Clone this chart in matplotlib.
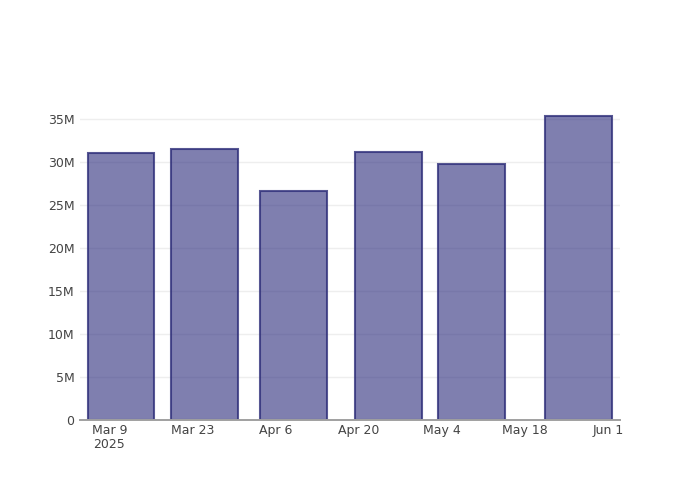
import matplotlib
matplotlib.use("Agg")
import matplotlib.pyplot as plt
import matplotlib.dates as mdates
from datetime import datetime, timedelta

dates = ["2025-03-11", "2025-03-25", "2025-04-09", "2025-04-25", "2025-05-09", "2025-05-27"]
values = [31.1e6, 31.55e6, 26.65e6, 31.15e6, 29.8e6, 35.4e6]
tick_dates = ["2025-03-09", "2025-03-23", "2025-04-06", "2025-04-20", "2025-05-04", "2025-05-18", "2025-06-01"]
tick_labels = ["Mar 9\n2025", "Mar 23", "Apr 6", "Apr 20", "May 4", "May 18", "Jun 1"]
y_ticks = [0, 5e6, 10e6, 15e6, 20e6, 25e6, 30e6, 35e6]
y_labels = ["0", "5M", "10M", "15M", "20M", "25M", "30M", "35M"]

plt.rcParams['font.family'] = ['DejaVu Sans']
fig = plt.figure(figsize=(7, 5), dpi=100)
ax = fig.add_axes([80/700, 80/500, 540/700, 320/500])

x = mdates.date2num([datetime.strptime(d, "%Y-%m-%d") for d in dates])
ax.bar(x, values, width=11.2, facecolor=(42/255, 42/255, 123/255, 0.6),
       edgecolor=(45/255, 45/255, 120/255, 0.8), linewidth=1.5, zorder=3)

tx = mdates.date2num([datetime.strptime(d, "%Y-%m-%d") for d in tick_dates])
x0 = tx[0]
ax.set_xlim(x0 - 4.94, x0 + 86.0)
ax.set_ylim(0, 37.26e6)

ax.set_xticks(tx)
ax.set_xticklabels(tick_labels, fontsize=9, color="#444444", linespacing=1.1)
ax.set_yticks(y_ticks)
ax.set_yticklabels(y_labels, fontsize=9, color="#444444")
ax.tick_params(axis='x', length=0, pad=3)
ax.tick_params(axis='y', length=0, pad=4)

ax.grid(axis='y', color="#eeeeee", linewidth=1, zorder=0)
ax.set_axisbelow(True)
for s in ["top", "right", "left"]:
    ax.spines[s].set_visible(False)
ax.spines["bottom"].set_color("#a0a0a0")
ax.spines["bottom"].set_linewidth(1.4)
ax.spines["bottom"].set_zorder(4)

fig.savefig("out.png", dpi=100)
